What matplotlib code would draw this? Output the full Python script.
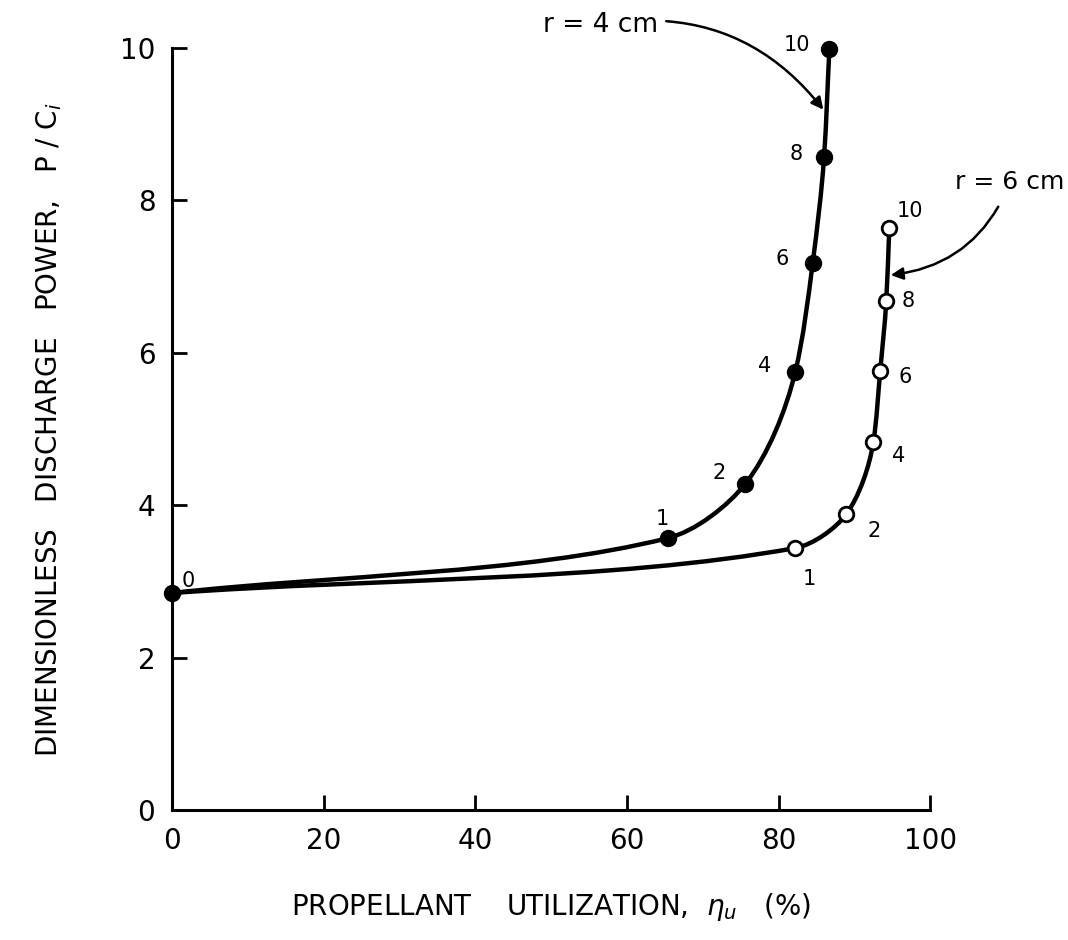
import numpy as np
import matplotlib.pyplot as plt
from matplotlib.path import Path
from matplotlib.patches import PathPatch

# data
labels4 = ["0", "1", "2", "4", "6", "8", "10"]
eta4 = [0.0, 65.4, 75.6, 82.2, 84.5, 86.0, 86.7]
pc4 = [2.85, 3.57, 4.28, 5.75, 7.18, 8.57, 9.99]

labels6 = ["0", "1", "2", "4", "6", "8", "10"]
eta6 = [0.0, 82.2, 88.9, 92.5, 93.4, 94.2, 94.6]
pc6 = [2.85, 3.44, 3.88, 4.83, 5.76, 6.68, 7.64]

# label offsets in points (dx, dy) for the numbers next to each marker
off4 = [(12, 9), (-4, 14), (-19, 8), (-22, 4), (-22, 3), (-20, 2), (-23, 3)]
off6 = [None, (10, -22), (20, -12), (18, -10), (18, -4), (16, 0), (15, 12)]


def pchip_slopes(t, v):
    h = np.diff(t)
    d = np.diff(v) / h
    m = np.zeros_like(v)
    for i in range(1, len(v) - 1):
        if d[i - 1] * d[i] > 0:
            w1 = 2 * h[i] + h[i - 1]
            w2 = h[i] + 2 * h[i - 1]
            m[i] = (w1 + w2) / (w1 / d[i - 1] + w2 / d[i])
    m[0] = d[0]
    m[-1] = d[-1]
    return m


def smooth_path(x, y, xr=100.0, yr=10.0):
    # monotone cubic through the points (chord-length parameter), as Bezier segments
    p = np.column_stack([np.asarray(x) / xr, np.asarray(y) / yr])
    t = np.concatenate([[0], np.cumsum(np.hypot(*np.diff(p, axis=0).T))])
    mx = pchip_slopes(t, p[:, 0])
    my = pchip_slopes(t, p[:, 1])
    verts = [p[0]]
    codes = [Path.MOVETO]
    for i in range(len(p) - 1):
        h = t[i + 1] - t[i]
        c1 = p[i] + h / 3 * np.array([mx[i], my[i]])
        c2 = p[i + 1] - h / 3 * np.array([mx[i + 1], my[i + 1]])
        verts += [c1, c2, p[i + 1]]
        codes += [Path.CURVE4] * 3
    v = np.array(verts) * [xr, yr]
    return Path(v, codes)


plt.rcParams['font.family'] = ['DejaVu Sans']
fig = plt.figure(figsize=(10.68, 9.4), dpi=100)
ax = fig.add_axes([0.161, 0.138, 0.71, 0.811])

ax.add_patch(PathPatch(smooth_path(eta4, pc4), fill=False, lw=3.2, color='black'))
ax.add_patch(PathPatch(smooth_path(eta6, pc6), fill=False, lw=3.2, color='black'))

ax.plot(eta4, pc4, 'o', ms=11.5, color='black', zorder=3, clip_on=False)
ax.plot(eta6[1:], pc6[1:], 'o', ms=10.5, mfc='white', mec='black', mew=2, zorder=3)

for lab, x, y, o in zip(labels4, eta4, pc4, off4):
    ax.annotate(lab, (x, y), xytext=o, textcoords='offset points',
                ha='center', va='center', fontsize=15)
for lab, x, y, o in zip(labels6, eta6, pc6, off6):
    if o is None:
        continue
    ax.annotate(lab, (x, y), xytext=o, textcoords='offset points',
                ha='center', va='center', fontsize=15)

ax.annotate("r = 4 cm", xy=(85.9, 9.19), xytext=(56.5, 10.3),
            ha='center', va='center', fontsize=19, annotation_clip=False,
            arrowprops=dict(arrowstyle='-|>', color='black', lw=1.8,
                            shrinkA=4, shrinkB=0, mutation_scale=18,
                            connectionstyle='arc3,rad=-0.3'))
ax.annotate("r = 6 cm", xy=(94.8, 7.02), xytext=(110.5, 8.24),
            ha='center', va='center', fontsize=18, annotation_clip=False,
            arrowprops=dict(arrowstyle='-|>', color='black', lw=1.8,
                            shrinkA=8, shrinkB=0, mutation_scale=18,
                            connectionstyle='arc3,rad=-0.3'))

ax.set_xlim(0, 100)
ax.set_ylim(0, 10)
ax.set_xticks([0, 20, 40, 60, 80, 100])
ax.set_yticks([0, 2, 4, 6, 8, 10])
ax.spines['top'].set_visible(False)
ax.spines['right'].set_visible(False)
ax.spines['left'].set_linewidth(2.2)
ax.spines['bottom'].set_linewidth(2.2)
ax.tick_params(direction='in', length=11, width=2, labelsize=20, pad=12)

ax.set_xlabel(r"PROPELLANT    UTILIZATION,  $\eta_u$   (%)", fontsize=20, labelpad=26)
ax.set_ylabel(r"DIMENSIONLESS   DISCHARGE   POWER,   P / C$_i$", fontsize=20, labelpad=40)

fig.savefig("out.png", dpi=100)
